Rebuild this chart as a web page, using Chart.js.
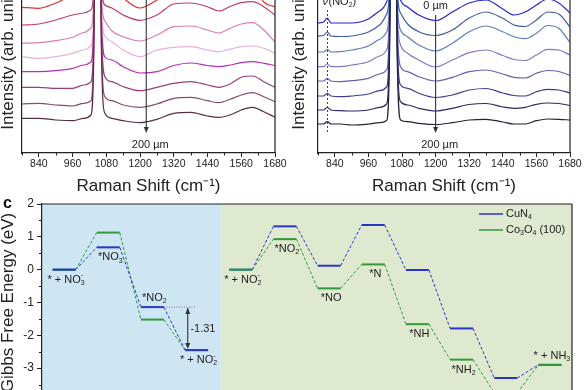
<!DOCTYPE html>
<html>
<head>
<meta charset="utf-8">
<script src="https://cdn.jsdelivr.net/npm/chart.js@4.4.1/dist/chart.umd.min.js"></script>
<style>
  html, body { margin: 0; padding: 0; background: #fff; }
  body { width: 585px; height: 390px; overflow: hidden; position: relative; }
  canvas { position: absolute; }
  #ramanA { left: 0; top: -60px; }
  #ramanB { left: 291px; top: -60px; }
  #gibbs  { left: 0; top: 190px; }
</style>
</head>
<body>
<canvas id="ramanA" width="290" height="255"></canvas>
<canvas id="ramanB" width="294" height="255"></canvas>
<canvas id="gibbs" width="585" height="230"></canvas>
<script>
/* Raman depth profiles (two top panels) + Gibbs free energy diagram (panel c) */

const FONT = '"Liberation Sans", Arial, Helvetica, sans-serif';
Chart.defaults.font.family = FONT;
Chart.defaults.color = '#222';

// ---- left Raman panel: shift samples, spectra from 200 µm (bottom) up to 0 µm (top)
const shiftA = [780, 840, 900, 960, 1000, 1025, 1036, 1043, 1055, 1062, 1075, 1100, 1140, 1200, 1260, 1320, 1380, 1440, 1480, 1520, 1560, 1600, 1640, 1680];
const specA1 = [3.47, 3.47, 3.30, 3.23, 3.47, 3.80, 11, 40, 40, 11, 3.97, 3.47, 3.23, 3.03, 3.37, 3.97, 4.07, 3.70, 3.57, 3.80, 4.30, 4.57, 4.13, 3.57];
const specA2 = [4.90, 4.97, 4.80, 4.70, 4.97, 5.20, 12, 40, 40, 12, 5.63, 5.23, 4.80, 4.57, 4.90, 5.47, 5.57, 5.23, 5.03, 5.37, 5.80, 6.03, 5.63, 5.13];
const specA3 = [6.57, 6.57, 6.47, 6.47, 6.80, 7.10, 13, 40, 40, 13, 7.63, 7.13, 6.63, 6.23, 6.57, 6.97, 7.13, 6.80, 6.57, 6.90, 7.57, 7.70, 7.13, 6.57];
const specA4 = [8.13, 8.13, 8.23, 8.47, 8.80, 9.10, 14, 40, 40, 14, 9.60, 9.30, 8.63, 8.00, 8.13, 8.75, 9.00, 8.75, 8.63, 8.80, 9.03, 9.13, 8.97, 8.75];
const specA5 = [9.63, 9.47, 9.63, 9.97, 10.30, 10.70, 15, 40, 40, 15, 11.70, 11.13, 10.30, 9.63, 10.30, 10.57, 10.63, 10.30, 10.13, 10.37, 10.63, 10.70, 10.47, 9.97];
const specA6 = [10.97, 11.03, 11.23, 11.57, 12.05, 12.50, 16, 40, 40, 16, 13.20, 12.20, 11.63, 11.20, 11.80, 12.63, 12.70, 12.30, 12.00, 12.47, 12.90, 13.03, 12.30, 11.10];
const specA7 = [12.80, 12.90, 13.30, 13.80, 14.00, 14.30, 17, 40, 40, 17, 14.80, 14.50, 13.80, 13.27, 13.80, 14.90, 15.00, 14.63, 14.20, 14.65, 15.03, 15.13, 14.63, 13.80];
const specA8 = [14.57, 14.47, 15.00, 15.80, 16.30, 16.70, 19, 40, 40, 19, 17.30, 16.50, 15.50, 14.50, 15.30, 16.50, 16.70, 16.10, 15.90, 16.10, 16.70, 16.80, 15.10, 14.60];
const colorsA = ['#5b2f42', '#8a4a6b', '#9a3c7e', '#b52db5', '#e9b1d7', '#d97db0', '#c23b6c', '#d9342a'];

// ---- right Raman panel
const shiftB = [780, 800, 813, 826, 860, 900, 960, 1000, 1025, 1036, 1043, 1055, 1062, 1075, 1100, 1140, 1200, 1260, 1320, 1380, 1440, 1480, 1520, 1560, 1600, 1640, 1680];
const specB1 = [2.9, 2.9, 3.15, 2.9, 2.9, 2.8, 2.9, 3.03, 3.25, 11, 40, 40, 11, 3.3, 3.13, 2.97, 2.85, 3.03, 3.3, 3.37, 3.1, 2.9, 2.9, 3.23, 3.4, 3.37, 3.3];
const specB2 = [4.3, 4.3, 4.57, 4.3, 4.23, 4.2, 4.3, 4.57, 4.9, 12, 40, 40, 12, 5.13, 4.8, 4.47, 4.2, 4.47, 4.85, 4.95, 4.6, 4.47, 4.57, 4.87, 5.0, 4.95, 4.75];
const specB3 = [5.7, 5.7, 5.97, 5.7, 5.63, 5.7, 5.9, 6.23, 6.6, 13, 40, 40, 13, 6.8, 6.47, 5.97, 5.55, 5.8, 6.3, 6.45, 6.0, 5.75, 5.7, 6.13, 6.37, 6.3, 6.0];
const specB4 = [7.2, 7.2, 7.47, 7.2, 7.13, 7.23, 7.47, 7.9, 8.3, 14, 40, 40, 14, 8.63, 8.13, 7.63, 7.2, 7.57, 8.13, 8.3, 7.9, 7.57, 7.5, 7.97, 8.25, 8.15, 7.75];
const specB5 = [8.63, 8.63, 8.9, 8.63, 8.63, 8.8, 9.13, 9.7, 10.3, 15, 40, 40, 15, 10.8, 9.97, 9.3, 8.6, 9.3, 10.03, 10.3, 9.75, 9.35, 9.25, 9.8, 10.37, 10.3, 9.8];
const specB6 = [10.1, 10.1, 10.37, 10.1, 10.13, 10.3, 10.7, 11.37, 12.1, 16, 40, 40, 16, 12.3, 11.63, 10.8, 10.2, 10.97, 12.13, 12.7, 12.13, 11.63, 11.43, 11.97, 12.75, 12.47, 11.05];
const specB7 = [11.7, 11.75, 12.1, 11.7, 11.65, 11.7, 12.1, 12.8, 13.9, 17, 40, 40, 17, 14.0, 12.9, 12.13, 11.75, 12.3, 13.5, 14.1, 13.47, 12.8, 12.65, 13.3, 14.1, 13.9, 12.6];
const specB8 = [13.0, 13.1, 13.5, 13.0, 13.0, 13.0, 13.4, 14.2, 15.1, 19, 40, 40, 19, 15.3, 14.6, 13.8, 13.25, 14.1, 15.0, 15.3, 14.4, 13.8, 14.1, 14.8, 15.4, 15.0, 14.0];
const colorsB = ['#22223a', '#2c2c6a', '#3d3d92', '#6262ae', '#7e7cc4', '#5d7dbd', '#3d5ba6', '#2626cc'];

const ramanTicks = [840, 960, 1080, 1200, 1320, 1440, 1560, 1680];

// ---- panel c: reaction steps and free energies (eV)
const steps = ['* + NO_3^-', '*NO_3', '*NO_2', '* + NO_2^-', '* + NO_2^-', '*NO_2', '*NO', '*N', '*NH', '*NH_2', '*NH_3', '* + NH_3'];
const labelSide = ['below', 'below', 'above', 'below', 'below', 'below', 'below', 'below', 'below', 'below', 'below', 'above'];
const cuN4  = [0, 0.68, -1.14, -2.45, 0, 1.32, 0.12, 1.36, -0.01, -1.79, -3.30, -2.90];
const co3o4 = [0, 1.13, -1.52, -2.45, 0, 0.93, -0.57, 0.16, -1.66, -2.74, -3.75, -2.90];
const energyTicks = [-4, -3, -2, -1, 0, 1, 2];

const BLUE = '#2a36c8', GREEN = '#2f9a3a';

// text with one-char sub (_x) / sup (^x); a sup right after a sub is stacked on it
function richText(ctx, str, x, y, size, align) {
  const parts = [];
  for (let i = 0; i < str.length; i++) {
    const c = str[i];
    if ((c === '_' || c === '^') && i + 1 < str.length) { parts.push({ t: str[i + 1], k: c }); i++; }
    else if (parts.length && parts[parts.length - 1].k === '') parts[parts.length - 1].t += c;
    else parts.push({ t: c, k: '' });
  }
  const small = Math.round(size * 0.68);
  const fontFor = k => (k ? small : size) + 'px ' + FONT;
  let w = 0;
  parts.forEach((p, j) => {
    ctx.font = fontFor(p.k);
    p.w = ctx.measureText(p.t).width;
    if (p.k === '^' && j > 0 && parts[j - 1].k === '_') { p.dx = -parts[j - 1].w; p.adv = Math.max(0, p.w - parts[j - 1].w); }
    else { p.dx = 0; p.adv = p.w; }
    w += p.adv;
  });
  let cx = align === 'center' ? x - w / 2 : align === 'right' ? x - w : x;
  ctx.save();
  ctx.textAlign = 'left';
  ctx.textBaseline = 'middle';
  parts.forEach(p => {
    ctx.font = fontFor(p.k);
    const oy = p.k === '_' ? size * 0.3 : p.k === '^' ? -size * 0.38 : 0;
    ctx.fillText(p.t, cx + p.dx, y + oy);
    cx += p.adv;
  });
  ctx.restore();
}

function arrowHead(ctx, x, y, dir) {
  ctx.beginPath();
  ctx.moveTo(x, y);
  ctx.lineTo(x - 2.5, y - 6 * dir);
  ctx.lineTo(x + 2.5, y - 6 * dir);
  ctx.closePath();
  ctx.fill();
}

function vArrow(ctx, x, y1, y2, both) {
  ctx.save();
  ctx.strokeStyle = '#333'; ctx.fillStyle = '#333'; ctx.lineWidth = 1.1;
  ctx.beginPath(); ctx.moveTo(x, y1); ctx.lineTo(x, y2 - 3); ctx.stroke();
  arrowHead(ctx, x, y2, 1);
  if (both) arrowHead(ctx, x, y1, -1);
  ctx.restore();
}

// right / top frame lines
const frame = {
  id: 'frame',
  afterDraw(chart, args, o) {
    const { ctx, chartArea: a } = chart;
    ctx.save();
    ctx.strokeStyle = '#222'; ctx.lineWidth = 1.2;
    ctx.beginPath();
    ctx.moveTo(a.right, a.top); ctx.lineTo(a.right, a.bottom);
    if (o.top) { ctx.moveTo(a.left, a.top); ctx.lineTo(a.right, a.top); }
    ctx.stroke();
    ctx.restore();
  }
};

// short minor tick marks
const minor = {
  id: 'minor',
  afterDraw(chart, args, o) {
    const s = chart.scales[o.axis], ctx = chart.ctx;
    ctx.save();
    ctx.strokeStyle = '#222'; ctx.lineWidth = 1;
    ctx.beginPath();
    o.values.forEach(v => {
      const p = Math.round(s.getPixelForValue(v)) + 0.5;
      if (s.isHorizontal()) { ctx.moveTo(p, s.top); ctx.lineTo(p, s.top + o.len); }
      else { ctx.moveTo(s.right, p); ctx.lineTo(s.right - o.len, p); }
    });
    ctx.stroke();
    ctx.restore();
  }
};

function ramanChart(id, shifts, spectra, colors, axisWidth, decor) {
  return new Chart(document.getElementById(id), {
    type: 'line',
    data: {
      datasets: spectra.map((s, k) => ({
        data: shifts.map((x, i) => ({ x, y: s[i] })),
        borderColor: colors[k], borderWidth: 1.2, pointRadius: 0,
        cubicInterpolationMode: 'monotone', fill: false
      }))
    },
    options: {
      responsive: false, animation: false, devicePixelRatio: 1,
      layout: { padding: { top: 17, right: 15, bottom: 0, left: 0 } },
      plugins: {
        legend: { display: false }, tooltip: { enabled: false },
        minor: { axis: 'x', values: ramanTicks.map(v => v - 60), len: 2.5 }
      },
      scales: {
        x: {
          type: 'linear', min: 780, max: 1680,
          afterBuildTicks: s => { s.ticks = ramanTicks.map(v => ({ value: v })); },
          ticks: { autoSkip: false, maxRotation: 0, padding: 1, font: { size: 10.5 }, color: '#222', callback: v => String(v) },
          grid: { drawOnChartArea: false, tickLength: 4, tickColor: '#222' },
          border: { color: '#222', width: 1.2 },
          title: { display: true, text: 'Raman Shift (cm⁻¹)', font: { size: 17, lineHeight: 1 }, padding: 0, color: '#222' },
          afterFit: s => { s.height = 42; s.paddingLeft = 0; s.paddingRight = 0; }
        },
        y: {
          min: 0, max: 19.6,
          ticks: { display: false },
          grid: { display: false },
          border: { color: '#222', width: 1.2 },
          title: { display: true, text: 'Intensity (arb. units)', font: { size: 17, lineHeight: 1 }, padding: 0, color: '#222' },
          afterFit: s => { s.width = axisWidth; }
        }
      }
    },
    plugins: [frame, minor, decor]
  });
}

const decorA = {
  id: 'decorA',
  afterDatasetsDraw(chart) {
    const { ctx, scales: { x, y }, chartArea: a } = chart;
    const ax = x.getPixelForValue(1222);
    vArrow(ctx, ax, a.top, y.getPixelForValue(2.0));
    ctx.fillStyle = '#222';
    richText(ctx, '200 µm', ax + 4, y.getPixelForValue(0.85), 11, 'center');
  }
};

const decorB = {
  id: 'decorB',
  afterDatasetsDraw(chart) {
    const { ctx, scales: { x, y } } = chart;
    const ax = x.getPixelForValue(1200);
    vArrow(ctx, ax, y.getPixelForValue(13.8), y.getPixelForValue(2.0));
    ctx.fillStyle = '#222';
    richText(ctx, '0 µm', ax, y.getPixelForValue(14.7), 11, 'center');
    richText(ctx, '200 µm', ax + 4, y.getPixelForValue(0.85), 11, 'center');
    // dotted marker at the nitrite band
    const nx = Math.round(x.getPixelForValue(813)) + 0.5;
    ctx.save();
    ctx.strokeStyle = '#444'; ctx.lineWidth = 1; ctx.setLineDash([2, 2]);
    ctx.beginPath(); ctx.moveTo(nx, y.getPixelForValue(14.3)); ctx.lineTo(nx, y.getPixelForValue(2.0)); ctx.stroke();
    ctx.restore();
    ctx.save();
    ctx.font = 'italic 11px ' + FONT;
    ctx.textBaseline = 'middle';
    const ty = y.getPixelForValue(15.1);
    ctx.fillText('ν', nx - 5, ty);
    ctx.restore();
    richText(ctx, '(NO_2^-)', nx + 1, ty, 11, 'left');
  }
};

ramanChart('ramanA', shiftA, [specA1, specA2, specA3, specA4, specA5, specA6, specA7, specA8], colorsA, 22, decorA);
ramanChart('ramanB', shiftB, [specB1, specB2, specB3, specB4, specB5, specB6, specB7, specB8], colorsB, 27, decorB);

// ---- panel c
function levelSet(vals, from, to, color) {
  const pts = [];
  for (let i = from; i <= to; i++) pts.push({ x: i - 0.26, y: vals[i] }, { x: i + 0.26, y: vals[i] });
  // even point index starts a level, odd index starts a connector
  const flat = c => c.p0DataIndex % 2 === 0;
  return {
    data: pts, borderColor: color, pointRadius: 0, borderWidth: 2, fill: false,
    segment: {
      borderDash: c => (flat(c) ? [] : [3, 2]),
      borderWidth: c => (flat(c) ? 2 : 1)
    }
  };
}

const bands = {
  id: 'bands',
  beforeDraw(chart) {
    const { ctx, chartArea: a, scales: { x } } = chart;
    const split = x.getPixelForValue(3.55);
    ctx.save();
    ctx.fillStyle = '#cee6f4';
    ctx.fillRect(a.left, a.top, split - a.left, a.bottom - a.top);
    ctx.fillStyle = '#dee9cf';
    ctx.fillRect(split, a.top, a.right - split, a.bottom - a.top);
    ctx.restore();
  }
};

const energyDecor = {
  id: 'energyDecor',
  afterDatasetsDraw(chart) {
    const { ctx, chartArea: a, scales: { x, y } } = chart;
    ctx.fillStyle = '#222';
    steps.forEach((name, i) => {
      const above = labelSide[i] === 'above';
      const v = above ? Math.max(cuN4[i], co3o4[i]) : Math.min(cuN4[i], co3o4[i]);
      richText(ctx, name, x.getPixelForValue(i) + 2, y.getPixelForValue(v) + (above ? -9 : 10), 11, 'center');
    });

    // gap between *NO2 and * + NO2- on CuN4
    const y0 = y.getPixelForValue(cuN4[2]), y1 = y.getPixelForValue(cuN4[3]);
    ctx.save();
    ctx.strokeStyle = '#777'; ctx.lineWidth = 1; ctx.setLineDash([1, 1.5]);
    ctx.beginPath(); ctx.moveTo(x.getPixelForValue(2.26), y0); ctx.lineTo(x.getPixelForValue(2.96), y0); ctx.stroke();
    ctx.restore();
    vArrow(ctx, x.getPixelForValue(2.8), y0 + 1, y1 - 1, true);
    ctx.fillStyle = '#222';
    richText(ctx, (cuN4[3] - cuN4[2]).toFixed(2), x.getPixelForValue(2.86), y.getPixelForValue((cuN4[2] + cuN4[3]) / 2), 11, 'left');

    // legend
    const lx = a.right - 93;
    [[BLUE, 'CuN_4'], [GREEN, 'Co_3O_4 (100)']].forEach(([c, t], k) => {
      const ly = a.top + 10 + k * 16;
      ctx.save();
      ctx.strokeStyle = c; ctx.lineWidth = 1.5;
      ctx.beginPath(); ctx.moveTo(lx, ly); ctx.lineTo(lx + 24, ly); ctx.stroke();
      ctx.restore();
      ctx.fillStyle = '#222';
      richText(ctx, t, lx + 27, ly, 11, 'left');
    });

    // panel letter
    ctx.save();
    ctx.font = 'bold 16px ' + FONT;
    ctx.fillStyle = '#111';
    ctx.textBaseline = 'alphabetic';
    ctx.fillText('c', 3, a.top + 4);
    ctx.restore();
  }
};

new Chart(document.getElementById('gibbs'), {
  type: 'line',
  data: {
    datasets: [
      levelSet(cuN4, 0, 3, BLUE),
      levelSet(co3o4, 4, 11, GREEN),
      levelSet(co3o4, 0, 3, GREEN),
      levelSet(cuN4, 4, 11, BLUE)
    ]
  },
  options: {
    responsive: false, animation: false, devicePixelRatio: 1,
    layout: { padding: { top: 14, right: 13, bottom: 19, left: 0 } },
    plugins: {
      legend: { display: false }, tooltip: { enabled: false },
      frame: { top: true },
      minor: { axis: 'y', values: energyTicks.slice(1).map(v => v - 0.5), len: 3 }
    },
    scales: {
      x: { type: 'linear', min: -0.5, max: 11.5, display: false },
      y: {
        min: -4, max: 2,
        afterBuildTicks: s => { s.ticks = energyTicks.map(v => ({ value: v })); },
        ticks: { font: { size: 12 }, padding: 3, color: '#222' },
        grid: { drawOnChartArea: false, tickLength: 5, tickColor: '#222' },
        border: { color: '#222', width: 1.2 },
        title: { display: true, text: 'Gibbs Free Energy (eV)', font: { size: 17, lineHeight: 1 }, padding: 0, color: '#222' },
        afterFit: s => { s.width = 42; }
      }
    }
  },
  plugins: [bands, frame, minor, energyDecor]
});
</script>
</body>
</html>
